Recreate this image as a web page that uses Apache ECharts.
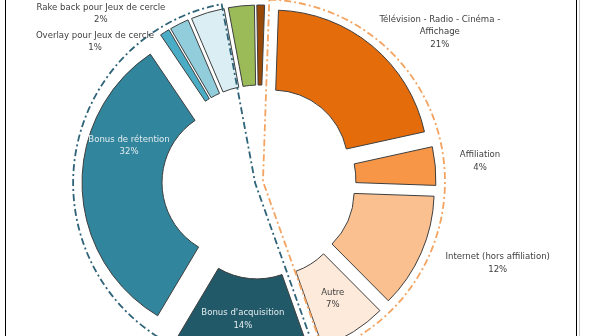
<!DOCTYPE html>
<html>
<head>
<meta charset="utf-8">
<script src="https://cdn.jsdelivr.net/npm/echarts@6/dist/echarts.min.js"></script>
<style>
html,body{margin:0;padding:0;background:#fff;}
#c{width:589px;height:336px;}
</style>
</head>
<body>
<div id="c"></div>
<script>
// ---- data ----
const categories = [
  'Télévision - Radio - Cinéma -\nAffichage',
  'Affiliation',
  'Internet (hors affiliation)',
  'Autre',
  "Bonus d'acquisition",
  'Bonus de rétention',
  'Overlay pour Jeux de cercle',
  'Rake back pour Jeux de cercle',
  'Poste non visible 1',
  'Poste non visible 2',
  'Poste non visible 3'
];
const values = [21, 4, 12, 7, 14, 32, 1, 2, 3.5, 2.7, 0.8];
const groups = ['orange','orange','orange','orange','bleu','bleu','bleu','bleu','bleu','aucun','aucun'];
const groupNames = ['orange', 'bleu', 'aucun'];

// ---- styles ----
const CX = 259, CY = 182;
const R0 = 75, R1 = 155, EXPLODE = 22, START = 88;
const sliceColors = ['#E46C0A','#F79646','#FAC090','#FDEADA','#215968','#31859C','#4BACC6','#92CDDC','#DAEEF3','#9BBB59','#984807'];
const labelColors = ['#404040','#404040','#404040','#404040','#E4ECEF','#E4ECEF','#404040','#404040'];
// label placement: [angle clockwise from top in degrees, distance from centre]
const labelPolar = [[50.3,235],[84.6,222],[108.7,252],[147.7,138],[186.7,138],[285.7,135],[310.6,216],[316.8,231]];
const groupStyle = {
  orange: {borderColor:'#F4A460', borderWidth:1.8},
  bleu: {borderColor:'#2E6378', borderWidth:1.8},
  aucun: {borderColor:'rgba(0,0,0,0)', borderWidth:0}
};
const FONT = '"Liberation Sans Narrow", "DejaVu Sans Condensed", "Liberation Sans", sans-serif';

const total = values.reduce((a, b) => a + b, 0);
const innerData = categories.map((name, i) => ({
  name: name,
  value: values[i],
  selected: true,
  itemStyle: {color: sliceColors[i], borderColor: '#3F3F3F', borderWidth: 1}
}));

const groupTotals = groupNames.map(g => values.reduce((s, v, i) => s + (groups[i] === g ? v : 0), 0));
const outerData = groupNames.map((g, k) => ({
  name: g,
  value: groupTotals[k],
  selected: g !== 'aucun',
  itemStyle: Object.assign({color: 'rgba(0,0,0,0)', borderType: [7, 3, 2, 3]}, groupStyle[g])
}));

// data labels (name + percentage), placed around the chart centre
const labelTexts = labelPolar.map((lp, i) => {
  const t = lp[0] * Math.PI / 180;
  return {
    type: 'text',
    z: 50,
    x: CX + lp[1] * Math.sin(t),
    y: CY - lp[1] * Math.cos(t),
    style: {
      text: categories[i] + '\n' + Math.round(100 * values[i] / total) + '%',
      font: '9.5px ' + FONT,
      lineHeight: 12.5,
      fill: labelColors[i],
      align: 'center', verticalAlign: 'middle',
      textAlign: 'center', textVerticalAlign: 'middle'
    }
  };
});

const chart = echarts.init(document.getElementById('c'), null, {renderer: 'canvas'});
chart.setOption({
  animation: false,
  backgroundColor: '#ffffff',
  graphic: [
    {type: 'rect', z: 100, shape: {x: 5.5, y: -5, width: 571, height: 350}, style: {fill: 'none', stroke: '#000', lineWidth: 1}},
    {type: 'line', z: 100, shape: {x1: 579.5, y1: -5, x2: 579.5, y2: 345}, style: {stroke: '#c8c8c8', lineWidth: 1}}
  ].concat(labelTexts),
  series: [
    {
      type: 'pie',
      center: [CX, CY],
      radius: [R0, R1],
      startAngle: START,
      clockwise: true,
      selectedMode: 'multiple',
      selectedOffset: EXPLODE,
      emphasis: {disabled: true},
      select: {itemStyle: {}},
      label: {show: false},
      labelLine: {show: false},
      data: innerData,
      z: 2
    },
    {
      type: 'pie',
      center: [CX, CY],
      radius: [0, 182],
      startAngle: START,
      clockwise: true,
      selectedMode: 'multiple',
      selectedOffset: 4,
      silent: true,
      emphasis: {disabled: true},
      select: {itemStyle: {}},
      label: {show: false},
      labelLine: {show: false},
      data: outerData,
      z: 3
    }
  ]
});
</script>
</body>
</html>
